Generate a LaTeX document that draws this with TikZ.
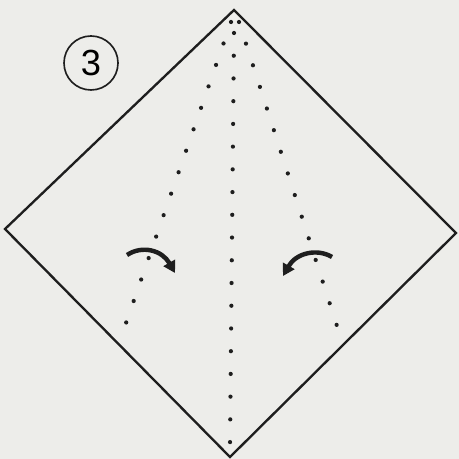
\documentclass[tikz,border=0pt]{standalone}
\usepackage{fontspec}
\newfontfamily\numfont{Liberation Sans}
\usetikzlibrary{arrows.meta,calc}
\definecolor{paper}{RGB}{237,237,234}
\definecolor{ink}{RGB}{30,30,30}

\begin{document}
\begin{tikzpicture}[x=0.03cm, y=-0.03cm, edge/.style={draw=ink,line width=2pt,line join=miter}, crease/.style={draw=ink,line width=3.6pt,line cap=round,dash pattern=on 0pt off 19.4pt}, fold/.style={draw=ink,line width=3.8pt,-{Triangle[length=10pt,width=11pt]}}, num/.style={draw=ink,circle,line width=1.4pt,minimum size=54*0.03cm,inner sep=0pt,font=\numfont\fontsize{31}{31}\selectfont}]
\fill[paper] (0,0) rectangle (459,459);
\useasboundingbox (0,0) rectangle (459,459);
% square paper seen as a diamond
\coordinate (T) at (234,10);
\coordinate (L) at (5,229);
\coordinate (B) at (230,457);
\coordinate (R) at (456,233);
\draw[edge] (T) -- (L) -- (B) -- (R) -- cycle;
% step number
\node[num] (step3) at (91,63) {3};
% crease lines
\coordinate (c1) at (234,33);
\coordinate (c2) at (230,445);
\coordinate (l1) at (231,22);
\coordinate (l2) at (126,323);
\coordinate (r1) at (239,22);
\coordinate (r2) at (337,326);
\draw[crease] (c1) -- (c2);
\draw[crease] (l1) -- (l2);
\draw[crease] (r1) -- (r2);
% fold arrows
\coordinate (la) at (127,255);
\coordinate (lb) at (175,273);
\coordinate (ra) at (332,257);
\coordinate (rb) at (283,276);
\draw[fold] (la) .. controls (142,245) and (162,250) .. (lb);
\draw[fold] (ra) .. controls (317,248) and (296,253) .. (rb);
\end{tikzpicture}
\end{document}
